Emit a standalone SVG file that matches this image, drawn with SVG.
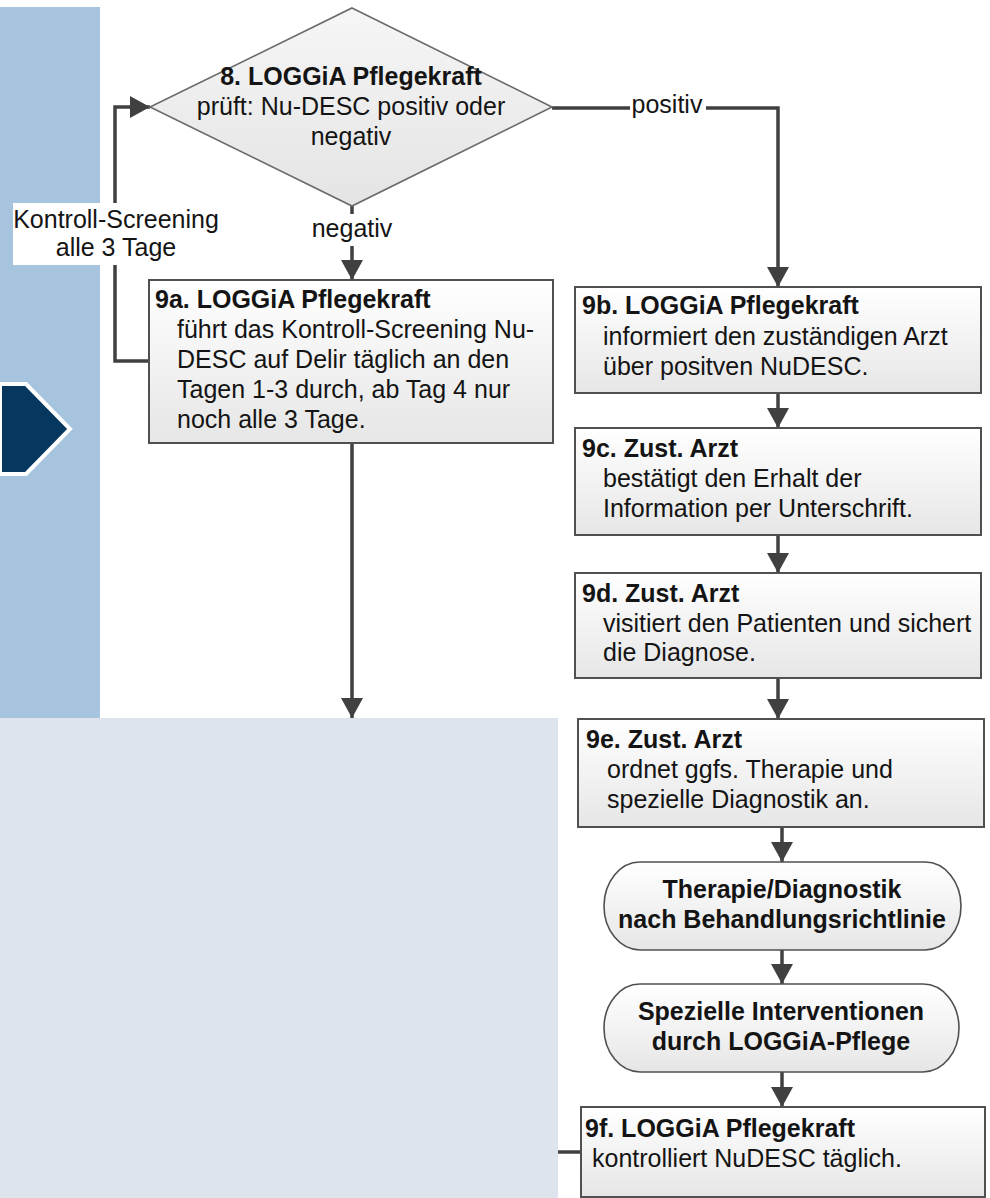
<svg xmlns="http://www.w3.org/2000/svg" width="990" height="1198" viewBox="0 0 990 1198">
  <defs>
    <linearGradient id="boxg" x1="0" y1="0" x2="0" y2="1">
      <stop offset="0" stop-color="#ffffff"/>
      <stop offset="1" stop-color="#e6e6e6"/>
    </linearGradient>
    <linearGradient id="diag" x1="0" y1="0" x2="0" y2="1">
      <stop offset="0" stop-color="#f6f6f6"/>
      <stop offset="1" stop-color="#e4e4e4"/>
    </linearGradient>
    <marker id="ah" markerUnits="userSpaceOnUse" markerWidth="22" markerHeight="22" refX="20" refY="11" orient="auto">
      <path d="M0,0 L20,11 L0,22 Z" fill="#404040"/>
    </marker>
    <style>
      .t { font-family: "Liberation Sans", Arial, sans-serif; font-size: 25px; fill: #141414; }
      .b { font-weight: bold; }
      .c { text-anchor: middle; }
      .box { fill: url(#boxg); stroke: #505050; stroke-width: 2; }
      .pill { fill: url(#boxg); stroke: #505050; stroke-width: 1.6; }
      .con { fill: none; stroke: #404040; stroke-width: 3.5; }
      .arr { marker-end: url(#ah); }
    </style>
  </defs>

  <!-- background panels -->
  <rect x="0" y="7" width="100" height="711" fill="#a7c4de"/>
  <rect x="0" y="718" width="558" height="480" fill="#dee4ed"/>
  <polygon points="0,384 26,384 70,429 26,474 0,474" fill="#06375f" stroke="#ffffff" stroke-width="4" stroke-linejoin="miter"/>

  <!-- connectors -->
  <g id="connectors">
    <path class="con arr" d="M148,361 H115 V107 H150"/>
    <path class="con arr" d="M352,206 V280"/>
    <path class="con arr" d="M552,108 H778 V287"/>
    <path class="con arr" d="M352,443 V718"/>
    <path class="con arr" d="M778,393 V428"/>
    <path class="con arr" d="M778,535 V573"/>
    <path class="con arr" d="M778,678 V719"/>
    <path class="con arr" d="M782,827 V862"/>
    <path class="con arr" d="M782,950 V984"/>
    <path class="con arr" d="M782,1072 V1107"/>
    <path class="con" d="M558,1152 H581"/>
  </g>

  <!-- connector labels -->
  <g id="labels">
    <rect x="13" y="203" width="207" height="62" fill="#ffffff"/>
    <text class="t c" x="116" y="228">Kontroll-Screening</text>
    <text class="t c" x="116" y="256">alle 3 Tage</text>
    <rect x="314" y="214" width="76" height="32" fill="#ffffff"/>
    <text class="t c" x="352" y="237">negativ</text>
    <rect x="630" y="96" width="76" height="26" fill="#ffffff"/>
    <text class="t c" x="667" y="113">positiv</text>
  </g>

  <!-- nodes -->
  <g id="n8">
    <polygon points="352,8 552,107 352,206 150,107" fill="url(#diag)" stroke="#6a6a6a" stroke-width="1.6"/>
    <text class="t b c" x="351" y="85">8. LOGGiA Pflegekraft</text>
    <text class="t c" x="351" y="115">prüft: Nu-DESC positiv oder</text>
    <text class="t c" x="351" y="145">negativ</text>
  </g>

  <g id="n9a">
    <rect class="box" x="149" y="280" width="404" height="163"/>
    <text class="t b" x="155" y="308">9a. LOGGiA Pflegekraft</text>
    <text class="t" x="177" y="338">führt das Kontroll-Screening Nu-</text>
    <text class="t" x="177" y="368">DESC auf Delir täglich an den</text>
    <text class="t" x="177" y="398">Tagen 1-3 durch, ab Tag 4 nur</text>
    <text class="t" x="177" y="428">noch alle 3 Tage.</text>
  </g>

  <g id="n9b">
    <rect class="box" x="575" y="287" width="406" height="106"/>
    <text class="t b" x="582" y="314">9b. LOGGiA Pflegekraft</text>
    <text class="t" x="603" y="345">informiert den zuständigen Arzt</text>
    <text class="t" x="603" y="375">über positven NuDESC.</text>
  </g>

  <g id="n9c">
    <rect class="box" x="575" y="428" width="406" height="107"/>
    <text class="t b" x="582" y="457">9c. Zust. Arzt</text>
    <text class="t" x="603" y="487">bestätigt den Erhalt der</text>
    <text class="t" x="603" y="517">Information per Unterschrift.</text>
  </g>

  <g id="n9d">
    <rect class="box" x="575" y="573" width="406" height="105"/>
    <text class="t b" x="582" y="602">9d. Zust. Arzt</text>
    <text class="t" x="603" y="632">visitiert den Patienten und sichert</text>
    <text class="t" x="603" y="661">die Diagnose.</text>
  </g>

  <g id="n9e">
    <rect class="box" x="578" y="719" width="406" height="108"/>
    <text class="t b" x="586" y="748">9e. Zust. Arzt</text>
    <text class="t" x="607" y="778">ordnet ggfs. Therapie und</text>
    <text class="t" x="607" y="808">spezielle Diagnostik an.</text>
  </g>

  <g id="nTherapie">
    <rect class="pill" x="604" y="862" width="357" height="88" rx="36" ry="44"/>
    <text class="t b c" x="782" y="898">Therapie/Diagnostik</text>
    <text class="t b c" x="782" y="928">nach Behandlungsrichtlinie</text>
  </g>

  <g id="nInterventionen">
    <rect class="pill" x="604" y="984" width="355" height="88" rx="36" ry="44"/>
    <text class="t b c" x="781" y="1020">Spezielle Interventionen</text>
    <text class="t b c" x="781" y="1050">durch LOGGiA-Pflege</text>
  </g>

  <g id="n9f">
    <rect class="box" x="581" y="1107" width="404" height="90"/>
    <text class="t b" x="585" y="1137">9f. LOGGiA Pflegekraft</text>
    <text class="t" x="592" y="1167">kontrolliert NuDESC täglich.</text>
  </g>
</svg>
